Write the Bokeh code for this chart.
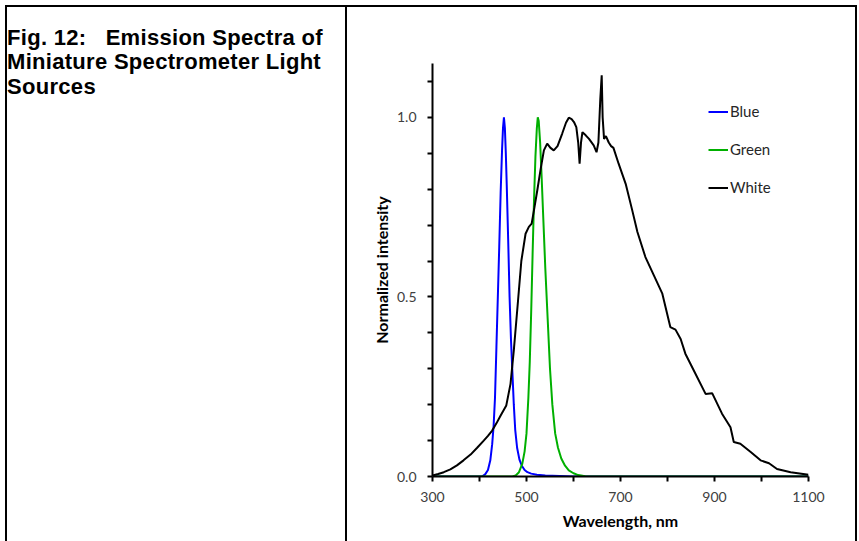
from bokeh.plotting import figure
from bokeh.models import (Range1d, FixedTicker, Legend, LegendItem,
                          PrintfTickFormatter, Div, Spacer)
from bokeh.layouts import row, column
from bokeh.embed import file_html
from bokeh.resources import INLINE

# ---------------- data ----------------
blue_wl = [300, 405, 412, 418, 423, 427, 430, 433, 436, 439, 442, 445, 448, 450,
           452, 454, 456, 458, 461, 464, 467, 470, 473, 476, 480, 485, 490, 496,
           502, 510, 522, 540, 570, 600, 1100]
blue_val = [0, 0, 0.006, 0.018, 0.045, 0.09, 0.14, 0.22, 0.36, 0.5, 0.64, 0.79,
            0.91, 0.97, 1.0, 0.97, 0.9, 0.81, 0.66, 0.5, 0.38, 0.29, 0.2, 0.13,
            0.08, 0.047, 0.03, 0.018, 0.012, 0.008, 0.005, 0.003, 0.0015, 0.0, 0.0]

green_wl = [300, 470, 477, 484, 491, 496, 500, 504, 507, 510, 513, 516, 519, 522,
            524, 526, 529, 532, 536, 540, 545, 550, 555, 561, 567, 574, 582, 590,
            600, 610, 625, 640, 1100]
green_val = [0, 0, 0.003, 0.012, 0.035, 0.07, 0.12, 0.22, 0.32, 0.46, 0.62, 0.77,
             0.89, 0.97, 1.0, 0.99, 0.93, 0.84, 0.71, 0.58, 0.44, 0.3, 0.2, 0.12,
             0.08, 0.05, 0.03, 0.017, 0.009, 0.004, 0.001, 0.0, 0.0]

white_wl = [300, 312, 324, 338, 352, 366, 381, 395, 409, 418, 427, 436, 445, 457,
            466, 473, 482, 489, 498, 505, 511, 517, 523, 530, 537, 544, 551, 558,
            566, 576, 584, 590, 596, 601, 606, 610, 613, 616, 619, 626, 633, 643,
            649, 653, 657, 660, 662, 665, 669, 675, 680, 685, 696, 711, 725, 736,
            753, 771, 789, 806, 817, 828, 838, 856, 881, 895, 916, 934, 941, 955,
            977, 998, 1016, 1033, 1062, 1100]
white_val = [0.003, 0.007, 0.012, 0.02, 0.031, 0.045, 0.061, 0.08, 0.10, 0.113,
             0.128, 0.148, 0.17, 0.198, 0.258, 0.351, 0.49, 0.60, 0.676, 0.695,
             0.704, 0.75, 0.797, 0.855, 0.908, 0.927, 0.915, 0.908, 0.92, 0.955,
             0.985, 0.999, 0.995, 0.987, 0.973, 0.93, 0.871, 0.93, 0.959, 0.95,
             0.94, 0.922, 0.903, 0.93, 1.05, 1.117, 1.0, 0.94, 0.948, 0.93, 0.92,
             0.915, 0.871, 0.815, 0.741, 0.681, 0.611, 0.56, 0.509, 0.416, 0.409,
             0.383, 0.342, 0.295, 0.230, 0.232, 0.175, 0.137, 0.096, 0.091, 0.068,
             0.045, 0.037, 0.021, 0.012, 0.005]

x_major = [300, 500, 700, 900, 1100]
x_minor = [400, 600, 800, 1000]
y_major = [0.0, 0.5, 1.0]
y_minor = [0.1, 0.2, 0.3, 0.4, 0.6, 0.7, 0.8, 0.9, 1.1]

title_lines = ["Fig. 12:   Emission Spectra of", "Miniature Spectrometer Light", "Sources"]
x_title = "Wavelength, nm"
y_title = "Normalized intensity"
series_names = ["Blue", "Green", "White"]
series_colors = ["#0000FF", "#00B000", "#000000"]

# ---------------- chart figure ----------------
CH_W, CH_H = 508, 534
p = figure(width=CH_W, height=CH_H, output_backend="svg", toolbar_location=None,
           x_range=Range1d(300, 1100), y_range=Range1d(0, 1.15),
           min_border_left=85, min_border_right=47, min_border_top=56,
           min_border_bottom=65, margin=0)
p.outline_line_color = None
p.grid.visible = False

r_blue = p.line(blue_wl, blue_val, line_color=series_colors[0], line_width=2)
r_green = p.line(green_wl, green_val, line_color=series_colors[1], line_width=2)
r_white = p.line(white_wl, white_val, line_color=series_colors[2], line_width=2)

for ax in (p.xaxis[0], p.yaxis[0]):
    ax.axis_line_color = "black"
    ax.axis_line_width = 2
    ax.major_tick_line_color = "black"
    ax.minor_tick_line_color = "black"
    ax.major_tick_line_width = 2
    ax.minor_tick_line_width = 2
    ax.major_tick_in = 0
    ax.major_tick_out = 5
    ax.minor_tick_in = 0
    ax.minor_tick_out = 5
    ax.major_label_text_font = "Lato"
    ax.major_label_text_font_size = "14px"
    ax.major_label_text_color = "#404040"
    ax.axis_label_text_font = "Lato"
    ax.axis_label_text_font_style = "bold"
    ax.axis_label_text_font_size = "16px"
    ax.axis_label_text_color = "black"

p.xaxis.ticker = FixedTicker(ticks=x_major, minor_ticks=x_minor)
p.yaxis.ticker = FixedTicker(ticks=y_major, minor_ticks=y_minor)
p.yaxis.formatter = PrintfTickFormatter(format="%.1f")
p.xaxis.axis_label = x_title
p.yaxis.axis_label = y_title
p.xaxis.major_label_standoff = 10
p.yaxis.major_label_standoff = 11
p.xaxis.axis_label_standoff = 6
p.yaxis.axis_label_standoff = 3

legend = Legend(items=[LegendItem(label=series_names[0], renderers=[r_blue]),
                       LegendItem(label=series_names[1], renderers=[r_green]),
                       LegendItem(label=series_names[2], renderers=[r_white])],
                location=(276, 280), padding=0, margin=0, spacing=20,
                glyph_width=20, glyph_height=17, label_height=17,
                label_standoff=2, border_line_color=None,
                background_fill_alpha=0, label_text_font="Lato",
                label_text_font_size="15px", label_text_color="#262626")
p.add_layout(legend)

# ---------------- title cell (HTML text) ----------------
TT_W = 338
title_html = ('<div style="font-family:\'Liberation Sans\',Arial,sans-serif;'
              'font-weight:bold;font-size:22px;line-height:24.5px;'
              'letter-spacing:0.3px;white-space:pre;padding-top:18.5px;'
              'padding-left:0px;color:black;margin:0;">'
              + "<br>".join(title_lines) + '</div>')
title_div = Div(text=title_html, width=TT_W, height=CH_H, margin=0)

# ---------------- table borders ----------------
def bar(w, h):
    return Div(text="", width=w, height=h, margin=0,
               styles={"background-color": "black"})

table = column(bar(2 + TT_W + 2 + CH_W + 2, 2),
               row(bar(2, CH_H), title_div, bar(2, CH_H), p, bar(2, CH_H),
                   spacing=0, margin=0),
               spacing=0, margin=0)
page = column(Spacer(width=859, height=5, margin=0),
              row(Spacer(width=5, height=536, margin=0), table,
                  spacing=0, margin=0),
              spacing=0, margin=0)

open("out.html", "w").write(file_html(page, INLINE))
